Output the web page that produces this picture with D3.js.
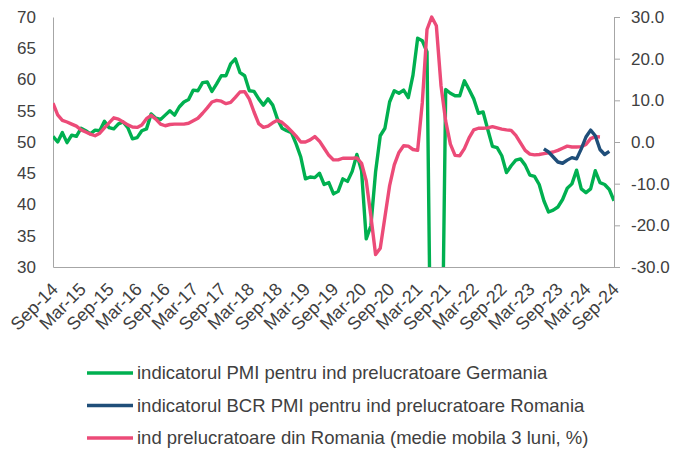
<!DOCTYPE html>
<html>
<head>
<meta charset="utf-8">
<script src="https://cdn.jsdelivr.net/npm/d3@7"></script>
<style>
  body { margin: 0; background: #fff; }
  svg text { font-family: "Liberation Sans", Arial, sans-serif; fill: #404040; }
</style>
</head>
<body>
<svg id="chart" width="674" height="450"></svg>
<script>
// monthly categories Sep-14 .. Sep-24
var months = d3.timeMonth.range(new Date(2014, 8, 1), new Date(2024, 9, 1));

var tickLabels = ["Sep-14", "Mar-15", "Sep-15", "Mar-16", "Sep-16", "Mar-17", "Sep-17",
    "Mar-18", "Sep-18", "Mar-19", "Sep-19", "Mar-20", "Sep-20", "Mar-21", "Sep-21",
    "Mar-22", "Sep-22", "Mar-23", "Sep-23", "Mar-24", "Sep-24"];

var leftTicks = [30, 35, 40, 45, 50, 55, 60, 65, 70];
var rightTicks = [-30, -20, -10, 0, 10, 20, 30];

// PMI Germania (left axis)
var pmiGermania = [
    50.9, 50.0, 51.5, 49.9, 51.1, 50.9, 52.2, 51.8, 51.3, 51.9, 51.8, 53.3,
    52.3, 52.1, 52.9, 53.2, 52.3, 50.5, 50.7, 51.8, 52.1, 54.5, 53.8, 53.6,
    54.3, 55.0, 54.3, 55.6, 56.4, 56.8, 58.3, 58.2, 59.5, 59.6, 58.1, 59.3,
    60.6, 60.6, 62.5, 63.3, 61.1, 60.6, 58.2, 58.1, 56.9, 55.9, 56.9, 55.9,
    53.7, 52.2, 51.8, 51.5, 49.7, 47.6, 44.1, 44.4, 44.3, 45.0, 43.2, 43.5,
    41.7, 42.1, 44.1, 43.7, 45.3, 48.0, 45.4, 34.5, 36.6, 45.2, 51.0, 52.2,
    56.4, 58.2, 57.8, 58.3, 57.1, 60.7, 66.6, 66.2, 64.4, 0, 0, 0,
    58.4, 57.8, 57.4, 57.4, 59.8, 58.4, 56.9, 54.6, 54.8, 52.0, 49.3, 49.1,
    47.8, 45.1, 46.2, 47.1, 47.3, 46.3, 44.7, 44.5, 43.2, 40.6, 38.8, 39.1,
    39.6, 40.8, 42.6, 43.3, 45.5, 42.5, 41.9, 42.5, 45.4, 43.5, 43.2, 42.4,
    40.6
];

// BCR PMI Romania (left axis), starts Jun-23
var pmiRomania = [
    48.9, 48.4, 47.6, 46.8, 46.6, 47.1, 47.5, 47.3, 48.9, 50.8, 51.9, 51.0,
    48.8, 48.0, 48.5
];
var pmiRomaniaStart = 105;

// ind prelucratoare Romania, 3mma % (right axis), Sep-14 .. Jun-24
var indRomania = [
    9.3, 6.5, 5.2, 4.8, 4.3, 3.8, 2.9, 2.4, 1.9, 1.5, 2.1, 3.4,
    4.6, 5.8, 5.5, 4.8, 4.1, 3.6, 3.5, 4.1, 5.6, 6.4, 5.5, 4.3,
    3.9, 4.2, 4.3, 4.3, 4.3, 4.5, 5.1, 5.7, 6.9, 8.2, 9.6, 10.0,
    9.8, 9.2, 9.5, 10.7, 12.0, 12.1, 10.3, 7.2, 4.4, 3.5, 3.8, 4.6,
    5.2, 4.7, 3.7, 2.6, 1.4, 0.0, 0.0, 0.5, 1.3, 0.2, -1.5, -3.2,
    -4.3, -4.3, -3.9, -3.9, -3.9, -3.8, -5.1, -9.3, -17.8, -27.0, -25.5, -18.0,
    -10.5, -5.5, -2.5, -0.9, -1.0, -1.8, -2.0, 9.5, 27.0, 30.0, 27.9, 13.5,
    5.0, -0.5, -3.2, -3.3, -1.6, 1.0, 2.9, 3.3, 3.3, 3.4, 3.7, 3.4,
    3.1, 2.9, 2.8, 1.6, -0.2, -2.0, -2.9, -3.1, -3.0, -2.8, -2.6, -2.4,
    -2.0, -1.5, -1.0, -1.2, -1.2, -1.1, -0.6, 0.8, 1.3, 1.2
];

var seriesNames = [
    "indicatorul PMI pentru ind prelucratoare Germania",
    "indicatorul BCR PMI pentru ind prelucratoare Romania",
    "ind prelucratoare din Romania (medie mobila 3 luni, %)"
];
var seriesColors = ["#00b050", "#1f4e79", "#ec4b78"];

(function chart() {
    var svg = d3.select("#chart"),
        plotLeft = 53, plotRight = 614, plotTop = 17, plotBottom = 267;

    var fmt = d3.timeFormat("%b-%y");
    var x = d3.scalePoint().domain(months.map(fmt)).range([plotLeft, plotRight]);
    var yL = d3.scaleLinear().domain([30, 70]).range([plotBottom, plotTop]);
    var yR = d3.scaleLinear().domain([-30, 30]).range([plotBottom, plotTop]);

    svg.append("clipPath").attr("id", "plot")
        .append("rect")
        .attr("x", plotLeft).attr("y", 0)
        .attr("width", plotRight - plotLeft).attr("height", plotBottom);

    // axes
    var gx = svg.append("g")
        .attr("transform", "translate(0," + plotBottom + ")")
        .call(d3.axisBottom(x).tickValues(tickLabels).tickSize(0));
    gx.select(".domain").attr("stroke", "#a6a6a6");
    gx.selectAll("text")
        .style("font-size", "18px")
        .style("text-anchor", "end")
        .attr("x", 0).attr("y", 0).attr("dy", "0.35em")
        .attr("transform", "translate(1,19) rotate(-45)");

    var gl = svg.append("g")
        .attr("transform", "translate(" + plotLeft + ",0)")
        .call(d3.axisLeft(yL).tickValues(leftTicks).tickSize(0).tickPadding(17));
    gl.select(".domain").attr("stroke", "#a6a6a6");
    gl.selectAll("text").style("font-size", "17px");

    var gr = svg.append("g")
        .attr("transform", "translate(" + plotRight + ",0)")
        .call(d3.axisRight(yR).tickValues(rightTicks).tickSize(6).tickPadding(11)
            .tickSizeOuter(0)
            .tickFormat(function (d) { return d.toFixed(1); }));
    gr.select(".domain").attr("stroke", "#a6a6a6");
    gr.selectAll(".tick line").attr("stroke", "#a6a6a6");
    gr.selectAll("text").style("font-size", "17px");

    // lines
    var plot = svg.append("g").attr("clip-path", "url(#plot)");

    function drawLine(values, offset, y, color) {
        var line = d3.line()
            .defined(function (d) { return d != null; })
            .x(function (d, i) { return x(fmt(months[i + offset])); })
            .y(function (d) { return y(d); });
        plot.append("path")
            .datum(values)
            .attr("fill", "none")
            .attr("stroke", color)
            .attr("stroke-width", 3.4)
            .attr("stroke-linejoin", "round")
            .attr("d", line);
    }

    drawLine(pmiGermania, 0, yL, seriesColors[0]);
    drawLine(indRomania, 0, yR, seriesColors[2]);
    drawLine(pmiRomania, pmiRomaniaStart, yL, seriesColors[1]);

    // legend
    var legend = svg.append("g")
        .selectAll("g")
        .data(seriesNames)
        .enter().append("g")
        .attr("transform", function (d, i) { return "translate(87," + (373 + i * 32.5) + ")"; });

    legend.append("line")
        .attr("x1", 0).attr("x2", 46)
        .attr("stroke", function (d, i) { return seriesColors[i]; })
        .attr("stroke-width", 3.5);

    legend.append("text")
        .attr("x", 50)
        .attr("dy", "0.35em")
        .style("font-size", "18.5px")
        .text(function (d) { return d; });
}());
</script>
</body>
</html>
